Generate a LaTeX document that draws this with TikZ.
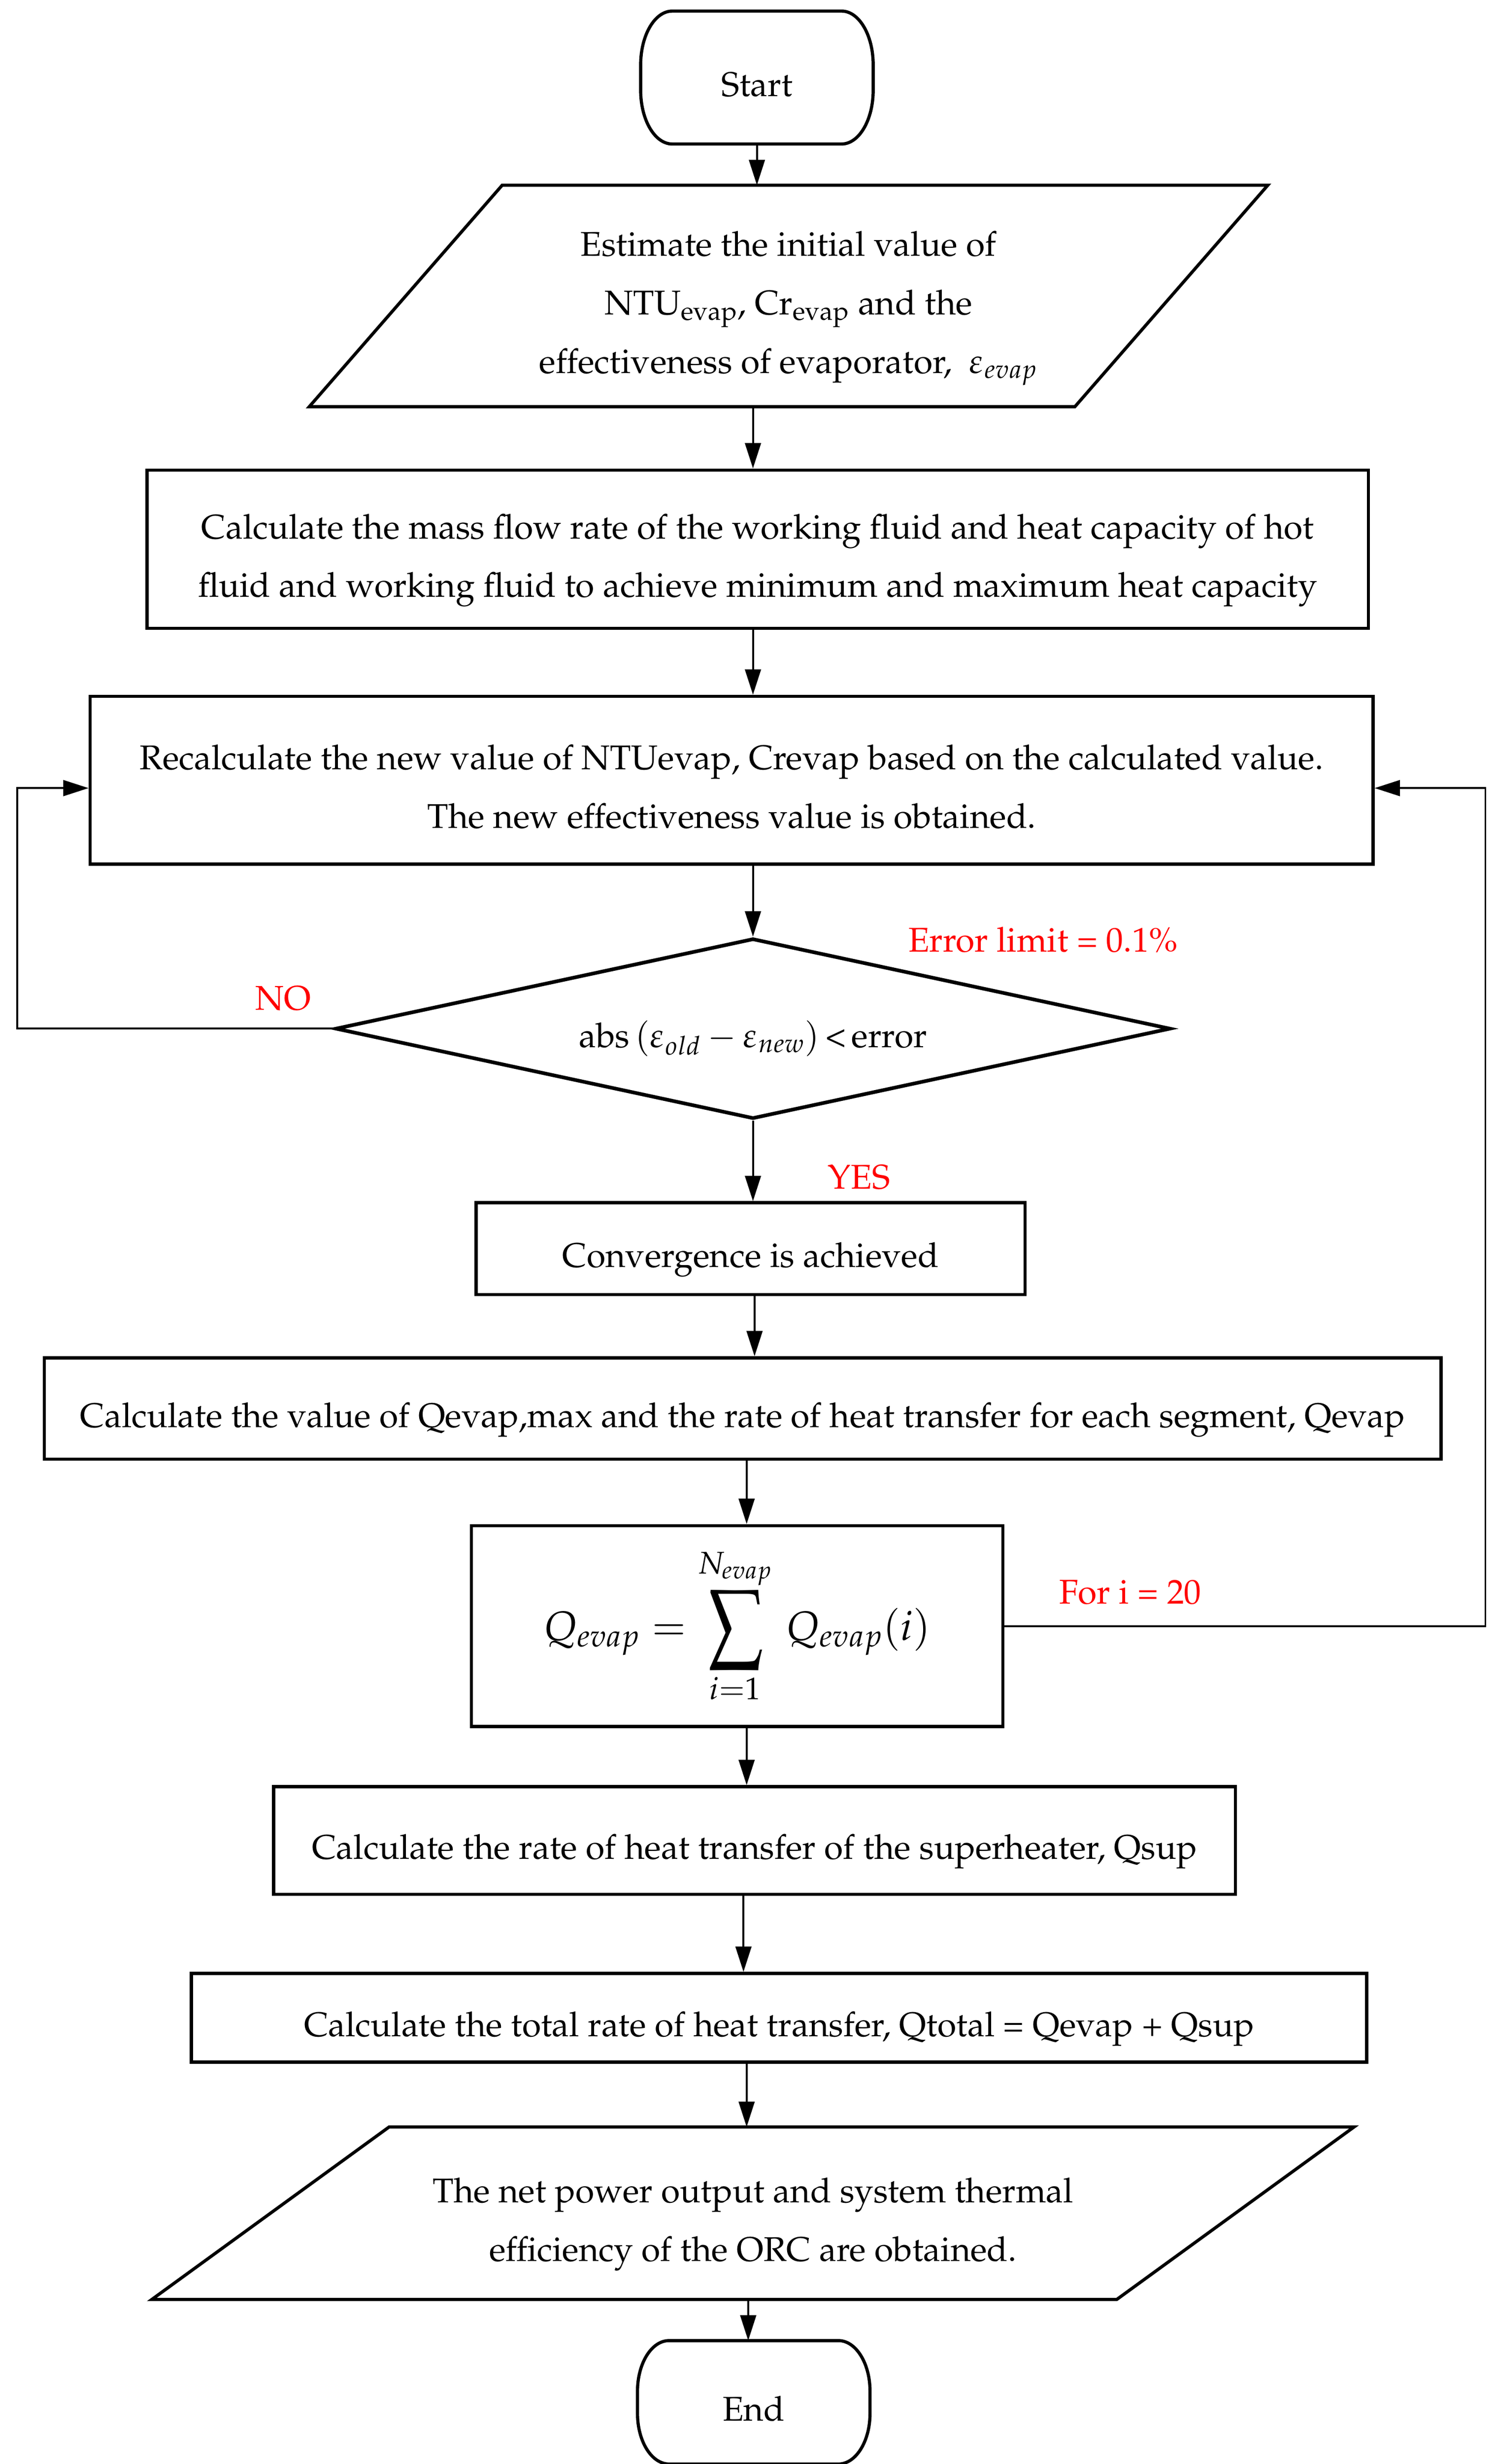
\documentclass[tikz,border=0pt]{standalone}
\usepackage[T1]{fontenc}
\usepackage{mathpazo}
\usepackage{graphicx}
\usetikzlibrary{arrows.meta,shapes.geometric,calc}
\newcommand\tb[1]{\raisebox{-9.9pt}[0pt][0pt]{\begin{tabular}{@{}c@{}}#1\end{tabular}}}
\begin{document}
\begin{tikzpicture}[x=1pt,y=-1pt]
\tikzset{
  box/.style={draw, line width=2pt, inner sep=0pt, font=\fontsize{21.7}{37}\selectfont},
  arr/.style={-{Triangle[length=16pt,width=10pt]}, line width=1.2pt},
  lab/.style={text=red, font=\fontsize{21.7}{25}\selectfont, inner sep=0pt},
  outl/.style={line width=2pt}
}
\useasboundingbox[fill=white] (0,0) rectangle (945,1557);
% axes
\coordinate (axA) at (476,0);
\coordinate (axB) at (472,0);
\coordinate (axC) at (470,0);
\coordinate (axD) at (477,0);
\coordinate (axE) at (473,0);
\coordinate (lx) at (11,0);
\coordinate (rx) at (939,0);
\coordinate (ly) at (0,498);

% Start
\node[box, draw=none, minimum width=145, minimum height=82] (start) at (478.5,49) {\tb{Start}};
\draw[outl] ([xshift=20]start.north west) -- ([xshift=-20]start.north east)
  arc[start angle=-90,end angle=0,x radius=20,y radius=34]
  -- ([yshift=34]start.south east)
  arc[start angle=0,end angle=90,x radius=20,y radius=34]
  -- ([xshift=20]start.south west)
  arc[start angle=90,end angle=180,x radius=20,y radius=34]
  -- ([yshift=-34]start.north west)
  arc[start angle=180,end angle=270,x radius=20,y radius=34] -- cycle;

% Parallelogram 1
\node[box, draw=none, minimum width=604, minimum height=138] (p1) at (498.5,187)
  {\tb{Estimate the initial value of\\ NTU\textsubscript{evap}, Cr\textsubscript{evap} and the\\ effectiveness of evaporator,\ \ $\varepsilon_{evap}$}};
\draw[outl] ([xshift=122]p1.north west) -- (p1.north east) -- ([xshift=-122]p1.south east) -- (p1.south west) -- cycle;

\node[box, minimum width=772, minimum height=100] (b2) at (479,347)
  {\tb{Calculate the mass flow rate of the working fluid and heat capacity of hot\\ fluid and working fluid to achieve minimum and maximum heat capacity}};

\node[box, minimum width=811, minimum height=106] (b3) at (462.5,493)
  {\tb{Recalculate the new value of NTUevap, Crevap based on the calculated value.\\ The new effectiveness value is obtained.}};

\node[draw, diamond, line width=2.3pt, aspect=4.63, minimum width=528, minimum height=114, inner sep=0pt, font=\fontsize{21.7}{37}\selectfont] (d) at (476,650)
  {\tb{abs\,$(\varepsilon_{old}-\varepsilon_{new})$\,<\,error}};

\node[box, minimum width=347, minimum height=58] (b4) at (474.5,789) {\tb{Convergence is achieved}};

\node[box, minimum width=883, minimum height=64] (b5) at (469.5,890)
  {\tb{Calculate the value of Qevap,max and the rate of heat transfer for each segment, Qevap}};

\node[box, minimum width=336, minimum height=127] (b6) at (466,1027.5)
  {\fontsize{26}{26}\selectfont $\displaystyle Q_{evap} = \mathop{\vcenter{\hbox{\scalebox{1.2}[1.55]{$\displaystyle\sum$}}}}\limits_{i=1}^{N_{evap}}\, Q_{evap}(i)$};

\node[box, minimum width=608, minimum height=68] (b7) at (477,1163)
  {\tb{Calculate the rate of heat transfer of the superheater, Qsup}};

\node[box, minimum width=743, minimum height=56] (b8) at (492.5,1275)
  {\tb{Calculate the total rate of heat transfer, Qtotal = Qevap + Qsup}};

% Parallelogram 2
\node[box, draw=none, minimum width=758, minimum height=107] (p2) at (476,1398.5)
  {\tb{The net power output and system thermal\\ efficiency of the ORC are obtained.}};
\draw[outl] ([xshift=150]p2.north west) -- (p2.north east) -- ([xshift=-150]p2.south east) -- (p2.south west) -- cycle;

% End
\node[box, draw=none, minimum width=145, minimum height=76] (end) at (476.5,1518) {\tb{End}};
\draw[outl] ([xshift=20]end.north west) -- ([xshift=-20]end.north east)
  arc[start angle=-90,end angle=0,x radius=20,y radius=32]
  -- ([yshift=32]end.south east)
  arc[start angle=0,end angle=90,x radius=20,y radius=32]
  -- ([xshift=20]end.south west)
  arc[start angle=90,end angle=180,x radius=20,y radius=32]
  -- ([yshift=-32]end.north west)
  arc[start angle=180,end angle=270,x radius=20,y radius=32] -- cycle;

% Connectors
\draw[arr] (start.south) -- (start.south |- p1.north);
\draw[arr] (p1.south -| axA) -- (axA |- b2.north);
\draw[arr] (b2.south -| axA) -- (axA |- b3.north);
\draw[arr] (b3.south -| axA) -- (d.north);
\draw[arr] (d.south) -- (d.south |- b4.north);
\draw[arr] (b4.south -| axD) -- (axD |- b5.north);
\draw[arr] (b5.south -| axB) -- (axB |- b6.north);
\draw[arr] (b6.south -| axB) -- (axB |- b7.north);
\draw[arr] (b7.south -| axC) -- (axC |- b8.north);
\draw[arr] (b8.south -| axB) -- (axB |- p2.north);
\draw[arr] (p2.south -| axE) -- (axE |- end.north);

% Loops
\draw[arr] (d.west) -- (d.west -| lx) -- (lx |- ly) -- (b3.west |- ly);
\draw[arr] (b6.east) -- (b6.east -| rx) -- (rx |- ly) -- (b3.east |- ly);

% Labels
\node[lab] (el) at (659.5,594) {Error limit = 0.1\%};
\node[lab] (no) at (179,631) {NO};
\node[lab] (yes) at (543,744) {YES};
\node[lab] (fi) at (714.5,1006) {For i = 20};
\end{tikzpicture}
\end{document}
